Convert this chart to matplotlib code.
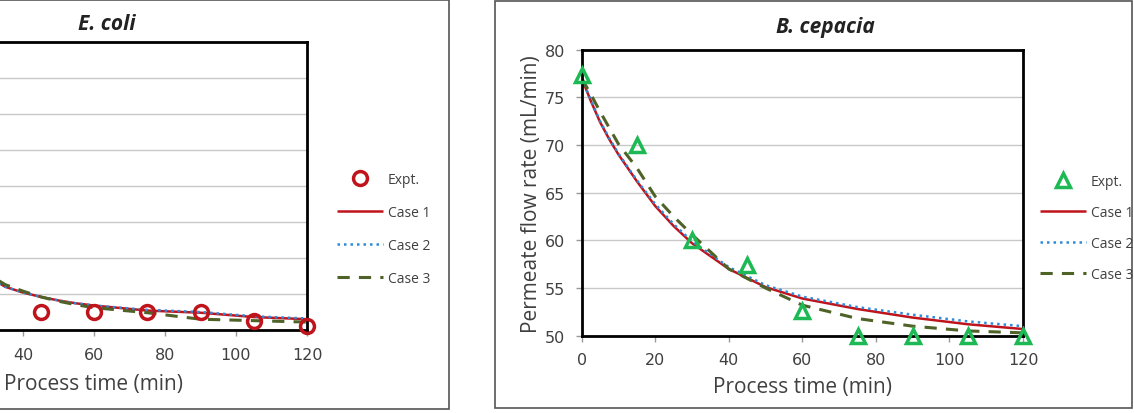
import matplotlib
matplotlib.use("Agg")
import matplotlib.pyplot as plt
from matplotlib.patches import Rectangle
from matplotlib.ticker import FuncFormatter

# tick numbers use a Verdana-like face, all other text a humanist sans
plt.rcParams['font.family'] = ['DejaVu Sans']
TEXTFONT = ['Open Sans', 'DejaVu Sans']

# ---------------- data ----------------
# E. coli panel (left, partly cropped)
ecoli_t_expt = [0, 15, 30, 45, 60, 75, 90, 105, 120]
ecoli_expt = [78.5, 57.0, 47.0, 42.5, 42.5, 42.5, 42.5, 41.3, 40.5]
ecoli_t_model = [0, 10, 20, 30, 35, 40, 45, 50, 55, 60, 75, 90, 105, 120]
ecoli_case1 = [78.0, 65.0, 55.0, 47.5, 46.0, 45.2, 44.6, 44.1, 43.7, 43.4, 42.7, 42.4, 41.8, 41.5]
ecoli_case2 = [78.0, 65.0, 55.0, 47.5, 46.0, 45.2, 44.6, 44.1, 43.7, 43.4, 42.8, 42.5, 41.9, 41.6]
ecoli_case3 = [78.0, 65.5, 55.5, 47.8, 46.3, 45.4, 44.6, 44.0, 43.5, 43.1, 42.4, 41.5, 41.3, 41.1]

# B. cepacia panel (right)
bcep_t_expt = [0, 15, 30, 45, 60, 75, 90, 105, 120]
bcep_expt = [77.3, 70.0, 60.0, 57.4, 52.6, 50.0, 50.0, 50.0, 50.0]
bcep_t_model = [0, 2.5, 5, 7.5, 10, 15, 20, 25, 30, 40, 50, 60, 75, 90, 105, 120]
bcep_case1 = [77.0, 74.6, 72.4, 70.6, 69.0, 66.2, 63.6, 61.5, 59.7, 57.0, 55.1, 53.9, 52.8, 51.9, 51.2, 50.7]
bcep_case2 = [77.0, 74.7, 72.5, 70.7, 69.1, 66.3, 63.8, 61.7, 59.9, 57.2, 55.3, 54.1, 53.0, 52.2, 51.5, 51.0]
bcep_case3 = [77.0, 75.3, 73.5, 71.8, 70.1, 67.6, 64.6, 62.5, 60.6, 57.0, 55.0, 53.2, 51.8, 51.0, 50.5, 50.3]

x_ticks = [0, 20, 40, 60, 80, 100, 120]
labels = ['Expt.', 'Case 1', 'Case 2', 'Case 3']

# ---------------- figure ----------------
W, H = 1134, 414
fig = plt.figure(figsize=(W / 100, H / 100), dpi=100)

def fx(px):
    return px / W

def fy(py):
    return 1 - py / H

# panel frames
fig.patches.append(Rectangle((fx(-5), fy(410)), fx(454), 409 / H, transform=fig.transFigure,
                             fill=False, edgecolor='#555555', lw=1.2))
fig.patches.append(Rectangle((fx(495), fy(409)), fx(637), 407 / H, transform=fig.transFigure,
                             fill=False, edgecolor='#555555', lw=1.2))

RED = '#c0141c'
BLUE = '#2e8ad8'
OLIVE = '#4f6228'
GREEN = '#1db954'
GRAY = '#404040'


def style_axes(ax, ylim, yticks):
    ax.set_xlim(0, 120)
    ax.set_ylim(*ylim)
    ax.set_xticks(x_ticks)
    ax.set_yticks(yticks)
    ax.grid(axis='y', color='#c8c8c8', lw=1.0)
    ax.set_axisbelow(True)
    for s in ax.spines.values():
        s.set_color('black')
        s.set_linewidth(2.0)
    ax.tick_params(axis='both', colors='#999999', labelcolor=GRAY, labelsize=11.5,
                   length=4, width=1, direction='out', pad=8)


def panel(ax, tm, c1, c2, c3, te, ex, marker, mcolor):
    h1, = ax.plot(tm, c1, color=RED, lw=1.8, solid_capstyle='butt')
    h2, = ax.plot(tm, c2, color=BLUE, lw=1.8, ls=(0, (1, 1.6)))
    h3, = ax.plot(tm, c3, color=OLIVE, lw=2.2, ls=(0, (4, 3)))
    h0, = ax.plot(te, ex, ls='none', marker=marker, ms=10,
                  mfc='none', mec=mcolor, mew=2.5, clip_on=False, zorder=5)
    return [h0, h1, h2, h3]


legend_kw = dict(loc='upper left', frameon=False, prop={'family': TEXTFONT, 'size': 10},
                 handlelength=3.3, handletextpad=0.35, borderpad=0, borderaxespad=0,
                 labelcolor=GRAY)
label_kw = dict(fontsize=15, color=GRAY, family=TEXTFONT)
title_kw = dict(fontsize=15, fontweight='bold', fontstyle='italic', ha='center', va='center',
                color='#222222', family=TEXTFONT)

# left panel: E. coli (cropped at the left edge of the picture)
axL = fig.add_axes([fx(-119), fy(331), fx(426), 288 / H])
style_axes(axL, (40, 80), [40, 45, 50, 55, 60, 65, 70, 75, 80])
hL = panel(axL, ecoli_t_model, ecoli_case1, ecoli_case2, ecoli_case3,
           ecoli_t_expt, ecoli_expt, 'o', RED)
# the y tick labels, y title and first x tick labels lie outside the visible crop
axL.yaxis.set_major_formatter(FuncFormatter(lambda v, p: ''))
axL.xaxis.set_major_formatter(FuncFormatter(lambda v, p: '' if v < 30 else f'{v:.0f}'))
axL.set_xlabel('Process time (min)', labelpad=8, **label_kw)
fig.text(fx(107), fy(24), 'E. coli', **title_kw)
fig.legend(hL, labels, bbox_to_anchor=(fx(337), fy(173)), labelspacing=1.3, **legend_kw)

# right panel: B. cepacia
axR = fig.add_axes([fx(581.7), fy(336.7), fx(441.3), 286 / H])
style_axes(axR, (50, 80), [50, 55, 60, 65, 70, 75, 80])
hR = panel(axR, bcep_t_model, bcep_case1, bcep_case2, bcep_case3,
           bcep_t_expt, bcep_expt, '^', GREEN)
axR.set_xlabel('Process time (min)', labelpad=6, **label_kw)
axR.set_ylabel('Permeate flow rate (mL/min)', labelpad=2, **label_kw)
fig.text(fx(825), fy(27), 'B. cepacia', **title_kw)
fig.legend(hR, labels, bbox_to_anchor=(fx(1040), fy(175)), labelspacing=1.15, **legend_kw)

fig.savefig('out.png', dpi=100)
